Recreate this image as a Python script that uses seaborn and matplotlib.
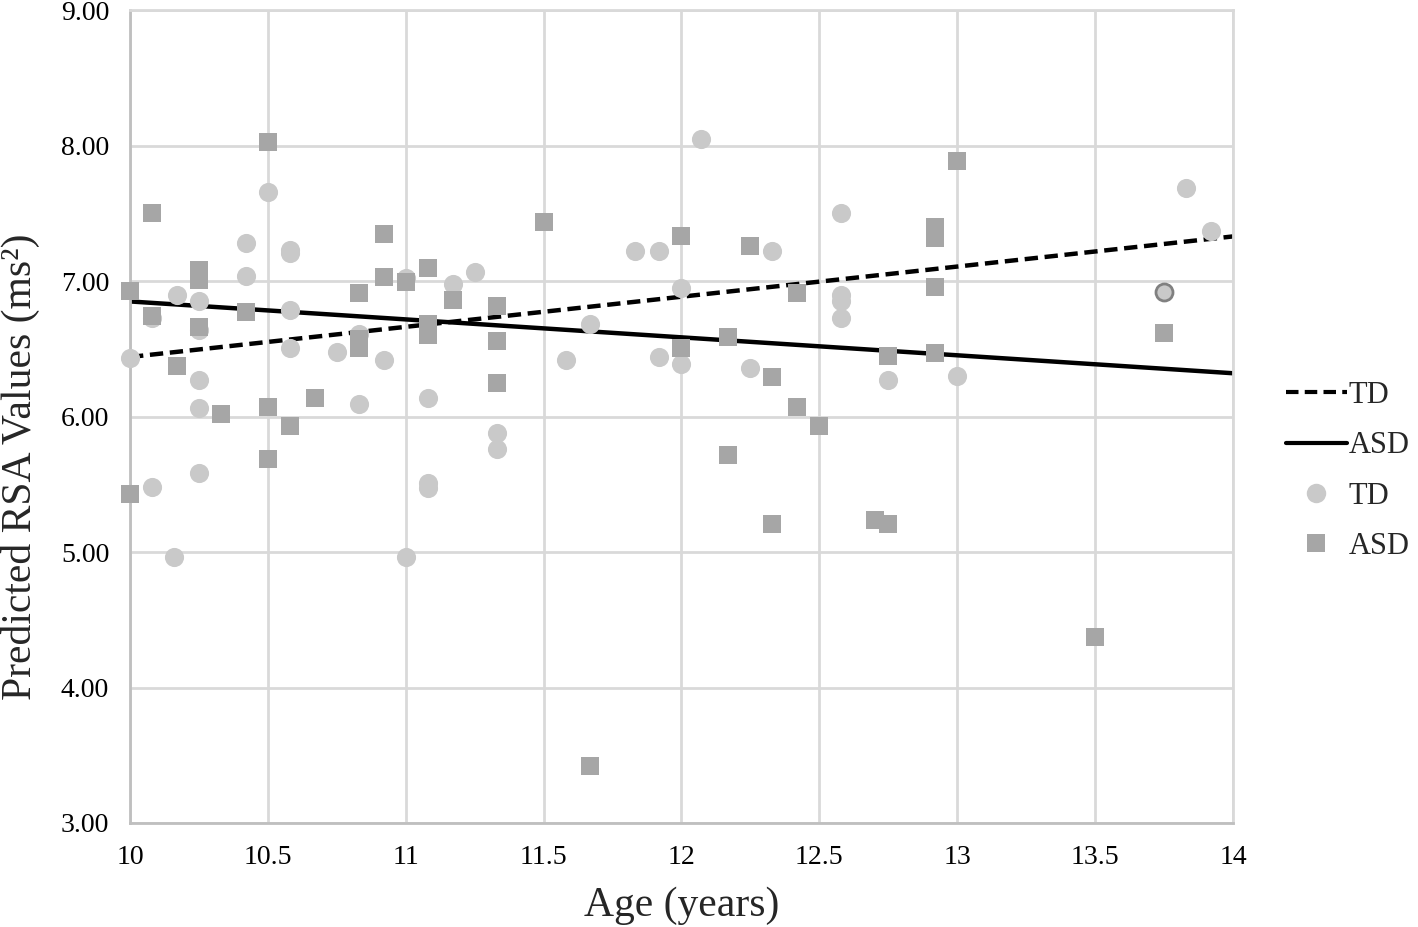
import numpy as np
import pandas as pd
import seaborn as sns
import matplotlib
matplotlib.use("Agg")
from matplotlib import pyplot as plt
from matplotlib.ticker import FormatStrFormatter, FuncFormatter
from matplotlib.lines import Line2D

# TD group (age, predicted RSA)
td_age = [10.00, 10.08, 10.08, 10.17, 10.16, 10.25, 10.25, 10.25, 10.25, 10.25,
          10.42, 10.42, 10.50, 10.58, 10.58, 10.58, 10.58, 10.75, 10.83, 10.83,
          10.92, 11.00, 11.00, 11.08, 11.08, 11.08, 11.17, 11.25, 11.33, 11.33,
          11.58, 11.67, 11.83, 11.92, 11.92, 12.07, 12.00, 12.00, 12.33, 12.25,
          12.58, 12.58, 12.58, 12.58, 12.75, 13.00, 13.83, 13.92]
td_rsa = [6.43, 6.73, 5.48, 6.90, 4.96, 6.85, 6.64, 6.27, 6.06, 5.58,
          7.28, 7.04, 7.66, 7.23, 7.21, 6.79, 6.51, 6.48, 6.61, 6.09,
          6.42, 7.02, 4.96, 6.14, 5.51, 5.47, 6.98, 7.07, 5.88, 5.76,
          6.42, 6.68, 7.22, 7.22, 6.44, 8.05, 6.95, 6.39, 7.22, 6.36,
          7.50, 6.90, 6.85, 6.73, 6.27, 6.30, 7.69, 7.37]
# one TD point drawn with an outline
td_hl_age = [13.75]
td_hl_rsa = [6.92]

# ASD group
asd_age = [10.00, 10.00, 10.08, 10.08, 10.17, 10.25, 10.25, 10.25, 10.33, 10.42,
           10.50, 10.50, 10.50, 10.58, 10.67, 10.83, 10.83, 10.83, 10.92, 10.92,
           11.00, 11.08, 11.08, 11.08, 11.17, 11.33, 11.33, 11.33, 11.50, 11.67,
           12.00, 12.00, 12.17, 12.17, 12.25, 12.33, 12.33, 12.42, 12.42, 12.50,
           12.70, 12.75, 12.75, 12.92, 12.92, 12.92, 12.92, 13.00, 13.50, 13.75]
asd_rsa = [6.93, 5.43, 7.50, 6.74, 6.37, 7.08, 7.01, 6.66, 6.02, 6.77,
           8.03, 6.07, 5.69, 5.93, 6.14, 6.91, 6.57, 6.51, 7.35, 7.03,
           6.99, 7.10, 6.68, 6.60, 6.86, 6.82, 6.56, 6.25, 7.44, 3.42,
           7.33, 6.51, 6.59, 5.72, 7.26, 6.29, 5.21, 6.91, 6.07, 5.93,
           5.24, 6.45, 5.21, 7.40, 7.32, 6.96, 6.47, 7.89, 4.37, 6.62]

# fitted lines (endpoints at age 10 and 14)
fit_age = [10, 14]
td_fit = [6.44, 7.33]
asd_fit = [6.85, 6.32]

xticks = [10, 10.5, 11, 11.5, 12, 12.5, 13, 13.5, 14]
yticks = [3, 4, 5, 6, 7, 8, 9]

sns.set_theme(style="white")
plt.rcParams['font.family'] = ['Liberation Serif', 'DejaVu Serif']

td_col = "#c9c9c9"
asd_col = "#a6a6a6"
grid_col = "#d9d9d9"

fig, ax = plt.subplots(figsize=(14.18, 9.27), dpi=100)
fig.subplots_adjust(left=0.0917, right=0.8695, top=0.989, bottom=0.1122)

td_df = pd.DataFrame({"age": td_age, "rsa": td_rsa})
asd_df = pd.DataFrame({"age": asd_age, "rsa": asd_rsa})
fit_df = pd.DataFrame({"age": fit_age, "td": td_fit, "asd": asd_fit})

sns.lineplot(data=fit_df, x="age", y="td", ax=ax, color="black", lw=3.2, zorder=2)
ax.lines[-1].set_dashes([3, 1.5])
sns.lineplot(data=fit_df, x="age", y="asd", ax=ax, color="black", lw=3.2, zorder=2)

sns.scatterplot(data=td_df, x="age", y="rsa", ax=ax, marker="o", s=190,
                color=td_col, linewidth=0, zorder=3, clip_on=False)
sns.scatterplot(x=td_hl_age, y=td_hl_rsa, ax=ax, marker="o", s=150,
                color=td_col, edgecolor="#808080", linewidth=2, zorder=3)
sns.scatterplot(data=asd_df, x="age", y="rsa", ax=ax, marker="s", s=180,
                color=asd_col, linewidth=0, zorder=4, clip_on=False)

ax.set_xlim(10, 14)
ax.set_ylim(3, 9)
ax.set_xticks(xticks)
ax.set_yticks(yticks)
ax.xaxis.set_major_formatter(FuncFormatter(lambda v, p: f"{v:g}"))
ax.yaxis.set_major_formatter(FormatStrFormatter("%.2f"))
ax.grid(True, color=grid_col, lw=2)
ax.set_axisbelow(True)
for side in ["top", "right"]:
    ax.spines[side].set_color(grid_col)
    ax.spines[side].set_linewidth(2)
for side in ["left", "bottom"]:
    ax.spines[side].set_color("#bfbfbf")
    ax.spines[side].set_linewidth(2)
ax.tick_params(axis="both", length=0, labelsize=20, colors="black")
ax.tick_params(axis="y", pad=15)
ax.tick_params(axis="x", pad=16)
ax.set_xlabel("Age (years)", fontsize=30, labelpad=12)
ax.set_ylabel("Predicted RSA Values (ms²)", fontsize=30, labelpad=15)
ax.yaxis.label.set_y(0.438)

handles = [
    Line2D([], [], color="black", lw=3, dashes=[3, 1.5]),
    Line2D([], [], color="black", lw=3),
    Line2D([], [], color=td_col, marker="o", ls="", markersize=14, markeredgewidth=0),
    Line2D([], [], color=asd_col, marker="s", ls="", markersize=13, markeredgewidth=0),
]
fig.legend(handles, ["TD", "ASD", "TD", "ASD"], loc="center left",
           bbox_to_anchor=(0.896, 0.492), frameon=False, fontsize=22,
           handlelength=2.0, handletextpad=0.05, labelspacing=0.7, borderpad=0)

fig.savefig("out.png", dpi=100)
